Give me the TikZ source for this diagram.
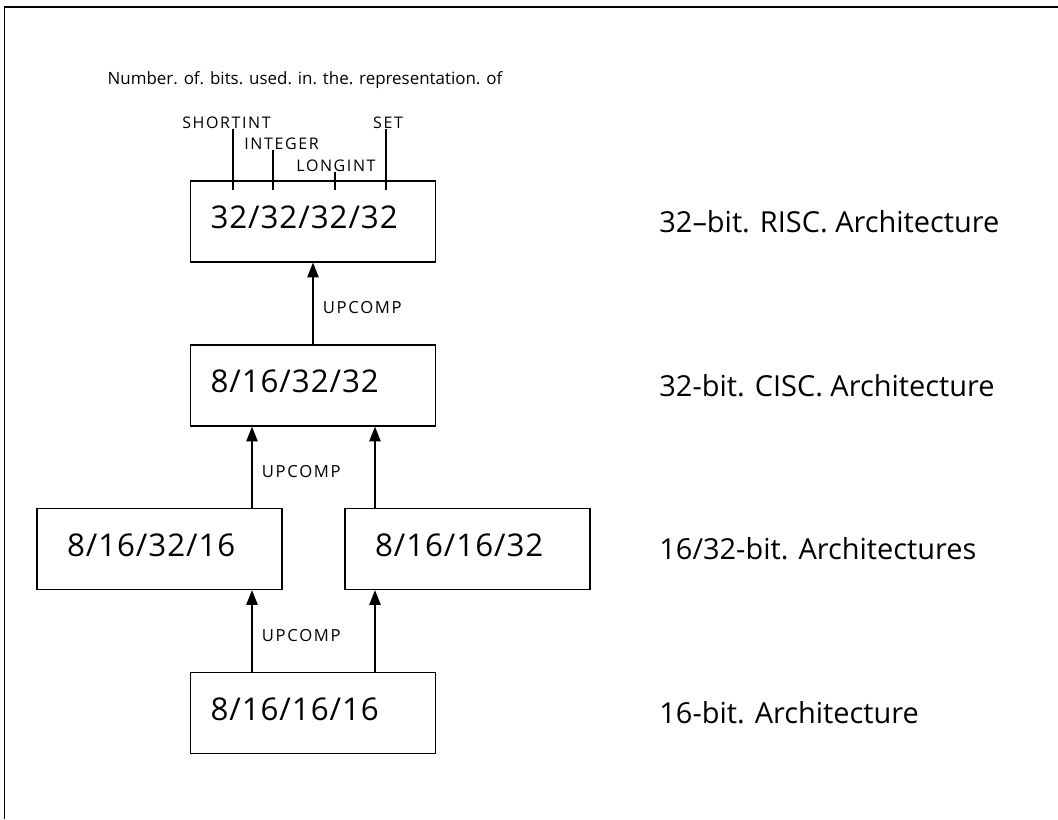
\documentclass[tikz,border=0pt]{standalone}
\usepackage{fontspec}
\setmainfont{Open Sans}
\newfontfamily\spacedfont[LetterSpace=10]{Open Sans}
\newfontfamily\widefont[LetterSpace=3]{Open Sans}
\usetikzlibrary{arrows.meta}

\begin{document}
\begin{tikzpicture}[->,semithick,>={Triangle[length=11pt,width=8.5pt]},x=0.75pt,y=-0.75pt]
    \tikzstyle{archbox}=[draw=black, line width=0.9pt, rectangle, minimum height=60.75pt, text width=153.75pt, inner xsep=15pt, align=left, text depth=6pt, text=black, font=\widefont\fontsize{23.5}{27}\selectfont]
    \tikzstyle{indented}=[text width=138.75pt, inner xsep=22.5pt]
    \tikzstyle{rowlabel}=[anchor=west, inner sep=0pt, font=\fontsize{21.7}{25}\selectfont]
    \tikzstyle{typelabel}=[anchor=base, inner sep=0pt, font=\spacedfont\fontsize{12}{14}\selectfont]
    \tikzstyle{upcomp}=[right=7pt, pos=0.45, inner sep=0pt, font=\spacedfont\fontsize{12.5}{14}\selectfont]
    \tikzstyle{tick}=[-, line width=0.9pt]

    \useasboundingbox (0,0) rectangle (1058,819);
    % frame
    \coordinate (fa) at (4,819);
    \coordinate (fb) at (4,7);
    \coordinate (fc) at (1058,7);
    \draw[-, line width=0.6pt] (fa) -- (fb);
    \draw[-, line width=1.2pt] (fb) -- (fc);

    % boxes
    \node[archbox] (risc) at (313,221.5) {32/32/32/32};
    \node[archbox] (cisc) at (313,385.5) {8/16/32/32};
    \node[archbox,indented] (mixa) at (159.5,549) {8/16/32/16};
    \node[archbox,indented] (mixb) at (467.5,549) {8/16/16/32};
    \node[archbox] (base) at (313,713) {8/16/16/16};

    % row labels
    \node[rowlabel] (lrisc) at (659,221.5) {32--bit. RISC. Architecture};
    \node[rowlabel] (lcisc) at (659,385.5) {32-bit. CISC. Architecture};
    \node[rowlabel] (lmix)  at (659,549)   {16/32-bit. Architectures};
    \node[rowlabel] (lbase) at (659,713)   {16-bit. Architecture};

    % field labels
    \node[anchor=base, inner sep=0pt, font=\fontsize{12.7}{16}\selectfont] (note) at (305,84)
        {Number. of. bits. used. in. the. representation. of};
    \node[typelabel] (lshort) at (226.5,128) {SHORTINT};
    \node[typelabel] (lint)   at (281.5,149) {INTEGER};
    \node[typelabel] (llong)  at (336,171)   {LONGINT};
    \node[typelabel] (lset)   at (388,128)   {SET};
    \coordinate (tshort) at (233,190);
    \coordinate (tint)   at (273,190);
    \coordinate (tlong)  at (335,190);
    \coordinate (tset)   at (386,190);
    \draw[tick] (lshort.south -| tshort) -- (tshort);
    \draw[tick] (lint.south -| tint) -- (tint);
    \draw[tick] (llong.south -| tlong) -- (tlong);
    \draw[tick] (lset.south -| tset) -- (tset);

    % upward compatibility
    \coordinate (colL) at (252,0);
    \coordinate (colR) at (375,0);
    \draw[line width=0.9pt] (cisc.north) -- node[upcomp] {UPCOMP} (risc.south);
    \draw[line width=0.9pt] (mixa.north -| colL) -- node[upcomp] {UPCOMP} (cisc.south -| colL);
    \draw[line width=0.9pt] (mixb.north -| colR) -- (cisc.south -| colR);
    \draw[line width=0.9pt] (base.north -| colL) -- node[upcomp] {UPCOMP} (mixa.south -| colL);
    \draw[line width=0.9pt] (base.north -| colR) -- (mixb.south -| colR);
\end{tikzpicture}
\end{document}
